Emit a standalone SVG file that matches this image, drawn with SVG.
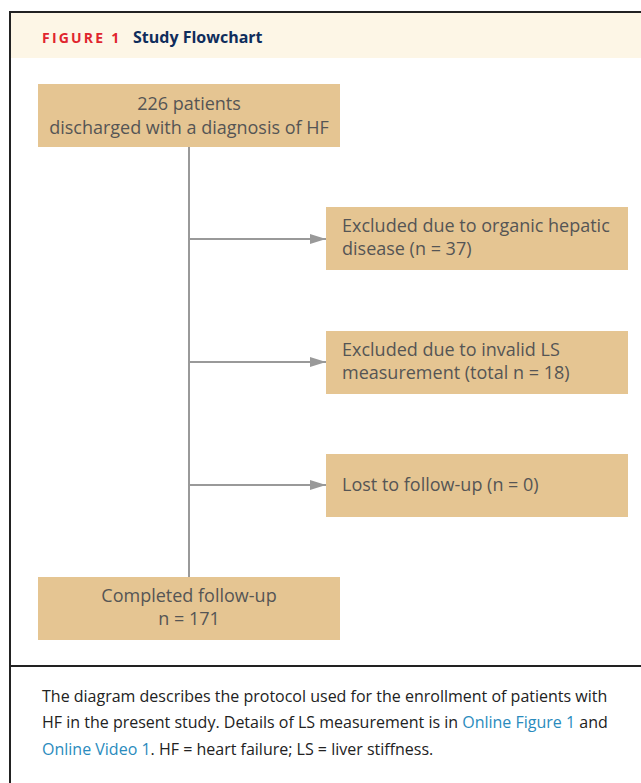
<svg xmlns="http://www.w3.org/2000/svg" width="641" height="783" viewBox="0 0 641 783">
<defs>
<style>
.box{fill:#e5c592;}
.t{font-family:"Open Sans","Noto Sans",sans-serif;font-size:18px;fill:#555;}
.c{font-family:"Open Sans","Noto Sans",sans-serif;font-size:16px;fill:#222;}
.lnk{fill:#2a8bbd;}
.conn{stroke:#999;stroke-width:2;fill:none;}
</style>
<marker id="ah" markerWidth="16" markerHeight="10" refX="16" refY="5" orient="auto" markerUnits="userSpaceOnUse">
<path d="M0,0 L16,5 L0,10 Z" fill="#999"/>
</marker>
</defs>
<rect x="0" y="0" width="641" height="783" fill="#fff"/>
<rect x="11" y="13" width="640" height="45" fill="#fdf6e6"/>
<path d="M10,783 L10,12 L641,12" stroke="#222" stroke-width="2" fill="none"/>
<line x1="10" y1="666" x2="641" y2="666" stroke="#222" stroke-width="2"/>
<g id="header">
<text x="42" y="43" font-family="'Open Sans','Noto Sans',sans-serif" font-size="14" font-weight="bold" letter-spacing="2.2" fill="#e0252e">FIGURE 1</text>
<text x="133" y="43" font-family="'Open Sans','Noto Sans',sans-serif" font-size="16" font-weight="bold" fill="#0f2d5c">Study Flowchart</text>
</g>
<g id="connectors">
<line class="conn" x1="189" y1="147" x2="189" y2="577"/>
<line class="conn" x1="189" y1="239" x2="326" y2="239" marker-end="url(#ah)"/>
<line class="conn" x1="189" y1="362" x2="326" y2="362" marker-end="url(#ah)"/>
<line class="conn" x1="189" y1="485" x2="326" y2="485" marker-end="url(#ah)"/>
</g>
<g id="n1">
<rect class="box" x="38" y="84" width="302" height="63"/>
<text class="t" x="189" y="110" text-anchor="middle">226 patients</text>
<text class="t" x="189" y="134" text-anchor="middle">discharged with a diagnosis of HF</text>
</g>
<g id="n2">
<rect class="box" x="326" y="207" width="302" height="63"/>
<text class="t" x="342" y="232">Excluded due to organic hepatic</text>
<text class="t" x="342" y="255">disease (n = 37)</text>
</g>
<g id="n3">
<rect class="box" x="326" y="331" width="302" height="63"/>
<text class="t" x="342" y="356">Excluded due to invalid LS</text>
<text class="t" x="342" y="379">measurement (total n = 18)</text>
</g>
<g id="n4">
<rect class="box" x="326" y="454" width="302" height="63"/>
<text class="t" x="342" y="491">Lost to follow-up (n = 0)</text>
</g>
<g id="n5">
<rect class="box" x="38" y="577" width="302" height="63"/>
<text class="t" x="189" y="602" text-anchor="middle">Completed follow-up</text>
<text class="t" x="189" y="625" text-anchor="middle">n = 171</text>
</g>
<g id="caption">
<text class="c" x="42" y="702">The diagram describes the protocol used for the enrollment of patients with</text>
<text class="c" x="42" y="728">HF in the present study. Details of LS measurement is in <tspan class="lnk">Online Figure 1</tspan> and</text>
<text class="c" x="42" y="755"><tspan class="lnk">Online Video 1</tspan>. HF = heart failure; LS = liver stiffness.</text>
</g>
</svg>
